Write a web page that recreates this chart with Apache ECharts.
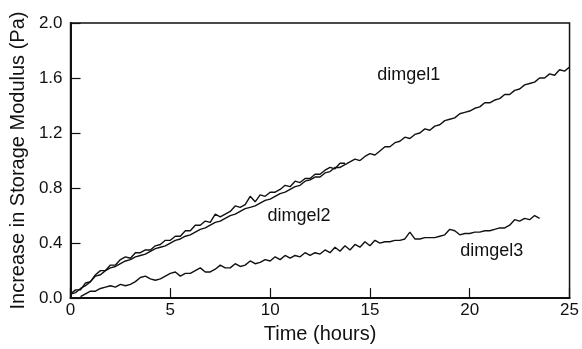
<!DOCTYPE html>
<html>
<head>
<meta charset="utf-8">
<script src="https://cdn.jsdelivr.net/npm/echarts@6/dist/echarts.min.js"></script>
<style>
html,body{margin:0;padding:0;background:#fff;}
#chart{width:582px;height:349px;}
</style>
</head>
<body>
<div id="chart"></div>
<script>
// Time in hours (shared sampling)
const hours = [
  0,0.25,0.5,0.75, 1,1.25,1.5,1.75, 2,2.25,2.5,2.75, 3,3.25,3.5,3.75, 4,4.25,4.5,4.75,
  5,5.25,5.5,5.75, 6,6.25,6.5,6.75, 7,7.25,7.5,7.75, 8,8.25,8.5,8.75, 9,9.25,9.5,9.75,
  10,10.25,10.5,10.75, 11,11.25,11.5,11.75, 12,12.25,12.5,12.75, 13,13.25,13.5,13.75,
  14,14.25,14.5,14.75, 15,15.25,15.5,15.75, 16,16.25,16.5,16.75, 17,17.25,17.5,17.75,
  18,18.25,18.5,18.75, 19,19.25,19.5,19.75, 20,20.25,20.5,20.75, 21,21.25,21.5,21.75,
  22,22.25,22.5,22.75, 23,23.25,23.5,23.75, 24,24.25,24.5,24.75, 25
];

// Increase in storage modulus (Pa)
const dimgel1 = [
  0.03,0.04,0.07,0.09, 0.12,0.16,0.17,0.20, 0.22,0.23,0.25,0.27, 0.28,0.30,0.31,0.32,
  0.34,0.36,0.37,0.38, 0.40,0.42,0.43,0.45, 0.46,0.48,0.50,0.51, 0.53,0.55,0.56,0.58,
  0.60,0.61,0.63,0.65, 0.66,0.67,0.69,0.71, 0.72,0.74,0.76,0.77, 0.79,0.81,0.82,0.85,
  0.86,0.88,0.88,0.91, 0.92,0.95,0.95,0.97, 0.99,1.01,1.00,1.03, 1.05,1.04,1.07,1.10,
  1.10,1.13,1.14,1.17, 1.16,1.19,1.20,1.23, 1.22,1.25,1.26,1.29, 1.30,1.31,1.34,1.35,
  1.36,1.38,1.39,1.42, 1.42,1.44,1.45,1.48, 1.48,1.51,1.52,1.55, 1.56,1.57,1.60,1.60,
  1.63,1.62,1.66,1.65, 1.68
];

const dimgel2 = [
  0.03,0.06,0.06,0.11, 0.12,0.17,0.20,0.20, 0.24,0.24,0.28,0.30, 0.29,0.33,0.33,0.35,
  0.35,0.38,0.39,0.42, 0.42,0.45,0.45,0.49, 0.49,0.53,0.53,0.56, 0.55,0.61,0.59,0.61,
  0.63,0.67,0.66,0.68, 0.74,0.70,0.75,0.74, 0.77,0.77,0.79,0.82, 0.81,0.85,0.84,0.87,
  0.87,0.90,0.90,0.93, 0.95,0.94,0.98,0.98
];

const dimgel3 = [
  null,null,0.01,0.03, 0.05,0.05,0.07,0.08, 0.09,0.08,0.10,0.09, 0.10,0.12,0.15,0.16,
  0.14,0.13,0.14,0.16, 0.18,0.19,0.16,0.18, 0.18,0.20,0.22,0.19, 0.19,0.21,0.24,0.22,
  0.22,0.25,0.23,0.24, 0.27,0.25,0.26,0.28, 0.27,0.30,0.28,0.31, 0.29,0.31,0.30,0.33,
  0.31,0.33,0.32,0.35, 0.33,0.37,0.34,0.38, 0.35,0.39,0.37,0.41, 0.38,0.42,0.40,0.41,
  0.41,0.42,0.42,0.43, 0.48,0.43,0.43,0.44, 0.44,0.44,0.45,0.46, 0.50,0.49,0.46,0.47,
  0.47,0.48,0.48,0.49, 0.49,0.50,0.51,0.51, 0.53,0.57,0.56,0.58, 0.57,0.60,0.58
];

const seriesNames = ['dimgel1', 'dimgel2', 'dimgel3'];
const labelAt = [[16.95, 1.625], [11.45, 0.60], [21.1, 0.34]];
const xTicks = [0, 5, 10, 15, 20, 25];
const yTicks = [0.0, 0.4, 0.8, 1.2, 1.6, 2.0];

function pairs(vals) {
  const out = [];
  vals.forEach((v, i) => { if (v !== null && v !== undefined) out.push([hours[i], v]); });
  return out;
}

const FONT = "'Liberation Sans', Arial, Helvetica, sans-serif";
const chart = echarts.init(document.getElementById('chart'), null, {renderer: 'canvas'});

const allVals = [dimgel1, dimgel2, dimgel3];
const series = allVals.map((vals, k) => ({
  name: seriesNames[k],
  type: 'line',
  data: pairs(vals),
  showSymbol: false,
  symbol: 'none',
  smooth: false,
  animation: false,
  lineStyle: {color: '#111', width: 1.4},
  z: 3 - k,
  markPoint: {
    symbol: 'circle',
    symbolSize: 0,
    silent: true,
    data: [{coord: labelAt[k], value: seriesNames[k]}],
    label: {
      show: true,
      position: 'inside',
      formatter: seriesNames[k],
      color: '#111',
      fontFamily: FONT,
      fontSize: 18
    }
  }
}));

chart.setOption({
  animation: false,
  backgroundColor: '#fff',
  grid: {
    left: 70, right: 9, top: 23, bottom: 47,
    show: true, borderColor: '#111', borderWidth: 1.5, backgroundColor: 'transparent'
  },
  xAxis: {
    type: 'value',
    min: xTicks[0], max: xTicks[xTicks.length - 1], interval: 5,
    name: 'Time (hours)',
    nameLocation: 'middle',
    nameGap: 22,
    nameTextStyle: {fontFamily: FONT, fontSize: 20, color: '#111'},
    axisLine: {show: true, lineStyle: {color: '#111', width: 2}},
    axisTick: {show: true, inside: true, length: 10, lineStyle: {color: '#111', width: 1.2}},
    axisLabel: {fontFamily: FONT, fontSize: 17, color: '#111', margin: 4},
    splitLine: {show: false}
  },
  yAxis: {
    type: 'value',
    min: yTicks[0], max: yTicks[yTicks.length - 1], interval: 0.4,
    name: 'Increase in Storage Modulus (Pa)',
    nameLocation: 'middle',
    nameGap: 31,
    nameTextStyle: {fontFamily: FONT, fontSize: 20, color: '#111'},
    axisLine: {show: true, lineStyle: {color: '#111', width: 2}},
    axisTick: {show: true, inside: true, length: 10, lineStyle: {color: '#111', width: 1.2}},
    axisLabel: {fontFamily: FONT, fontSize: 17, color: '#111', margin: 8,
      formatter: v => v.toFixed(1)},
    splitLine: {show: false}
  },
  series: series
});
</script>
</body>
</html>
